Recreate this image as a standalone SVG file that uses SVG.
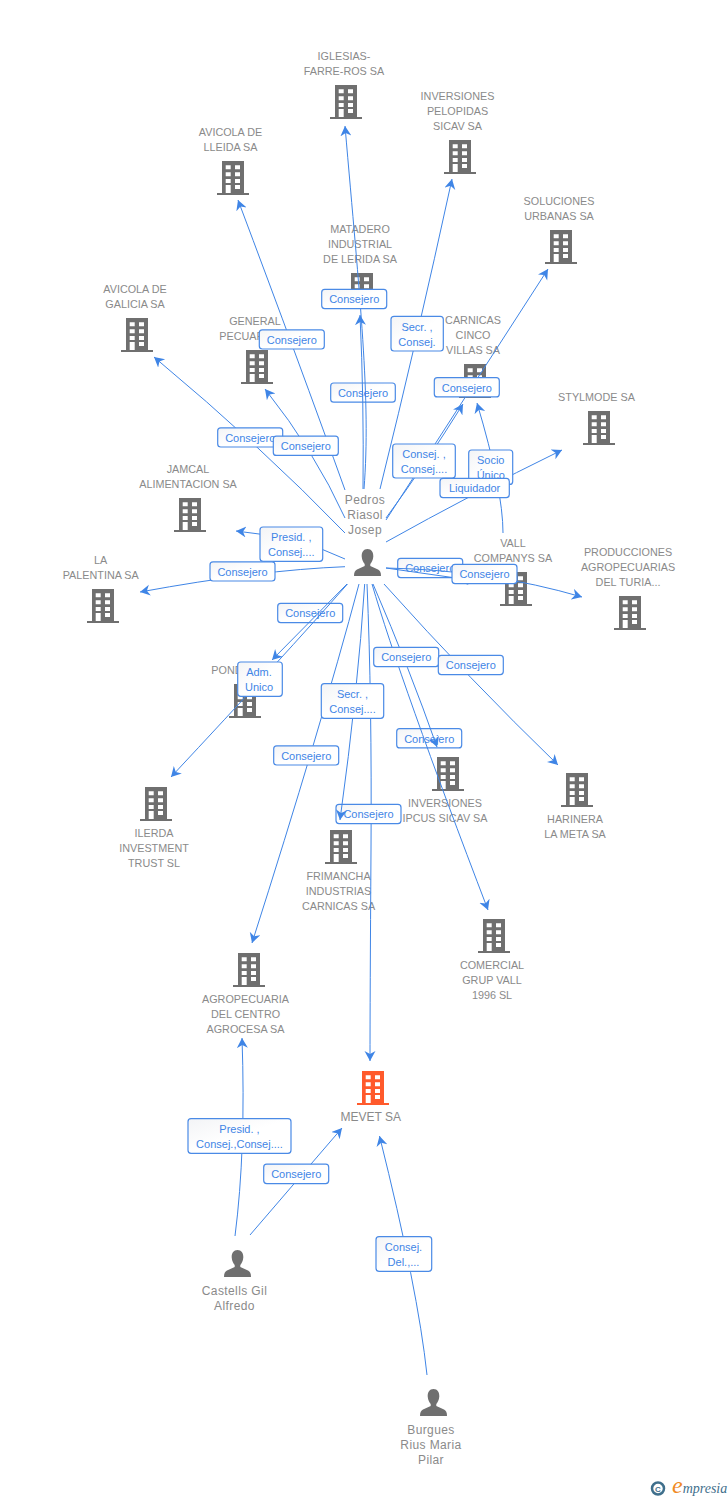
<svg xmlns="http://www.w3.org/2000/svg" xmlns:xlink="http://www.w3.org/1999/xlink" width="728" height="1500" viewBox="0 0 728 1500">
<style>
text{font-family:"Liberation Sans",Arial,sans-serif}
.n text{font-size:10.8px;fill:#8a8a8a;text-anchor:middle}
.n text.s{text-anchor:start}
.p text{font-size:12px;fill:#8a8a8a;text-anchor:middle;letter-spacing:.4px}
.b{fill:#6f6f6f}
.m{fill:#ff5a2c}
.c path{fill:none;stroke:#3f85e6;stroke-width:1;marker-end:url(#a)}
.l rect{fill:url(#g);stroke:#4a8ae6;stroke-width:1.2}
.l text{font-size:11px;fill:#3f85e6;text-anchor:middle}
</style>
<defs>
<linearGradient id="g" x1="0" y1="0" x2="1" y2="1"><stop offset="0" stop-color="#f3f4f6"/><stop offset=".5" stop-color="#fff"/><stop offset="1" stop-color="#fff"/></linearGradient>
<marker id="a" markerUnits="userSpaceOnUse" markerWidth="12" markerHeight="12" refX="10" refY="5.5" orient="auto"><path d="M10 5.5L0 0L3 5.5L0 11Z" fill="#3f85e6"/></marker>
<path id="bp" fill-rule="evenodd" d="M5 0H27V32H32V34H0V32H5ZM8.7 4.3V8.3H13.7V4.3ZM18 4.3V8.3H23V4.3ZM8.7 11.3V15.3H13.7V11.3ZM18 11.3V15.3H23V11.3ZM8.7 18V22H13.7V18ZM18 18V22H23V18ZM18 24V28H23V24ZM8.7 24V32H13.7V24Z"/>
<path id="pp" d="M13.5 0C17.5 0 19.5 3.2 19.3 7.5C19.1 11 17.5 13.5 16.3 15V17L24 20.5C26 21.5 27 23 27 27H0C0 23 1 21.5 3 20.5L10.7 17V15C9.5 13.5 7.9 11 7.7 7.5C7.5 3.2 9.5 0 13.5 0Z"/>
</defs>
<rect width="728" height="1500" fill="#fff"/>
<g id="node-iglesias" class="n"><use href="#bp" class="b" x="330" y="85"/><text x="344" y="60">IGLESIAS-</text><text x="344" y="75">FARRE-ROS SA</text></g>
<g id="node-avicola-lleida" class="n"><use href="#bp" class="b" x="217" y="161"/><text x="230.5" y="136">AVICOLA DE</text><text x="230.5" y="151">LLEIDA SA</text></g>
<g id="node-pelopidas" class="n"><use href="#bp" class="b" x="444" y="140"/><text x="457.5" y="100">INVERSIONES</text><text x="457.5" y="115">PELOPIDAS</text><text x="457.5" y="130">SICAV SA</text></g>
<g id="node-soluciones" class="n"><use href="#bp" class="b" x="545" y="230"/><text x="559" y="205">SOLUCIONES</text><text x="559" y="220">URBANAS SA</text></g>
<g id="node-matadero" class="n"><use href="#bp" class="b" x="346" y="273"/><text x="360" y="233">MATADERO</text><text x="360" y="248">INDUSTRIAL</text><text x="360" y="263">DE LERIDA SA</text></g>
<g id="node-avicola-galicia" class="n"><use href="#bp" class="b" x="121" y="318"/><text x="135" y="293">AVICOLA DE</text><text x="135" y="308">GALICIA SA</text></g>
<g id="node-general" class="n"><use href="#bp" class="b" x="241" y="350"/><text x="255" y="325">GENERAL</text><text class="s" x="219.3" y="340">PECUAR</text></g>
<g id="node-carnicas" class="n"><use href="#bp" class="b" x="459" y="364"/><text x="473" y="324">CARNICAS</text><text x="473" y="339">CINCO</text><text x="473" y="354">VILLAS SA</text></g>
<g id="node-stylmode" class="n"><use href="#bp" class="b" x="583" y="411"/><text x="596.5" y="401">STYLMODE SA</text></g>
<g id="node-jamcal" class="n"><use href="#bp" class="b" x="174" y="498"/><text x="188" y="473">JAMCAL</text><text x="188" y="488">ALIMENTACION SA</text></g>
<g id="node-palentina" class="n"><use href="#bp" class="b" x="87" y="589"/><text x="100.7" y="564">LA</text><text x="100.7" y="579">PALENTINA SA</text></g>
<g id="node-vall" class="n"><use href="#bp" class="b" x="500" y="572"/><text x="513" y="547">VALL</text><text x="513" y="562">COMPANYS SA</text></g>
<g id="node-producciones" class="n"><use href="#bp" class="b" x="614" y="596"/><text x="628" y="556">PRODUCCIONES</text><text x="628" y="571">AGROPECUARIAS</text><text x="628" y="586">DEL TURIA...</text></g>
<g id="node-pond" class="n"><use href="#bp" class="b" x="229" y="684"/><text class="s" x="211.3" y="674">POND</text></g>
<g id="node-ilerda" class="n"><use href="#bp" class="b" x="140" y="787"/><text x="154" y="837">ILERDA</text><text x="154" y="852">INVESTMENT</text><text x="154" y="867">TRUST SL</text></g>
<g id="node-ipcus" class="n"><use href="#bp" class="b" x="432" y="757"/><text x="445" y="807">INVERSIONES</text><text x="445" y="822">IPCUS SICAV SA</text></g>
<g id="node-harinera" class="n"><use href="#bp" class="b" x="561" y="773"/><text x="575" y="823">HARINERA</text><text x="575" y="838">LA META SA</text></g>
<g id="node-frimancha" class="n"><use href="#bp" class="b" x="325" y="830"/><text x="338.5" y="880">FRIMANCHA</text><text x="338.5" y="895">INDUSTRIAS</text><text x="338.5" y="910">CARNICAS SA</text></g>
<g id="node-comercial" class="n"><use href="#bp" class="b" x="478" y="919"/><text x="492" y="969">COMERCIAL</text><text x="492" y="984">GRUP VALL</text><text x="492" y="999">1996 SL</text></g>
<g id="node-agropecuaria" class="n"><use href="#bp" class="b" x="233" y="953"/><text x="245.5" y="1003">AGROPECUARIA</text><text x="245.5" y="1018">DEL CENTRO</text><text x="245.5" y="1033">AGROCESA SA</text></g>
<g id="node-mevet" class="n"><use href="#bp" class="m" x="357" y="1071"/><text x="370.7" y="1121" style="font-size:12px">MEVET SA</text></g>
<g id="node-pedros" class="p"><use href="#pp" class="b" x="354" y="549"/><text x="365" y="504">Pedros</text><text x="365" y="519">Riasol</text><text x="365" y="534">Josep</text></g>
<g id="node-castells" class="p"><use href="#pp" class="b" x="224" y="1250"/><text x="234.5" y="1295">Castells Gil</text><text x="234.5" y="1310">Alfredo</text></g>
<g id="node-burgues" class="p"><use href="#pp" class="b" x="420" y="1389"/><text x="431" y="1434">Burgues</text><text x="431" y="1449">Rius Maria</text><text x="431" y="1464">Pilar</text></g>

<g id="connectors-base" class="c">
<path d="M367 584Q372 700 371 850T370 1061"/>
</g>
<g id="labels-under" class="l">
<g><rect x="330.7" y="383" width="64.6" height="19.2" rx="3"/><text x="363" y="397">Consejero</text></g>
<g><rect x="397.7" y="558.4" width="65" height="19.2" rx="3"/><text x="430.2" y="572.4">Consejero</text></g>
<g><rect x="277.7" y="603.4" width="65" height="19.2" rx="3"/><text x="310.2" y="617.4">Consejero</text></g>
<g><rect x="396.7" y="728.7" width="65" height="19.2" rx="3"/><text x="429.2" y="742.7">Consejero</text></g>
<g><rect x="336" y="804.4" width="65" height="19.2" rx="3"/><text x="368.5" y="818.4">Consejero</text></g>
</g>
<g id="connectors" class="c">
<path d="M363 489Q364 400 360 315"/>
<path d="M364 489C371 400 360 300 345 126"/>
<path d="M345 490Q300 365 238 200"/>
<path d="M380 489Q417 340 452 179"/>
<path d="M386 520L548 269"/>
<path d="M386 518Q425 465 463 404"/>
<path d="M503 533Q503 490 477 403"/>
<path d="M386 542Q470 495 562 450"/>
<path d="M386 568L477 581"/>
<path d="M386 568Q490 570 582 597"/>
<path d="M345 533Q262 447 154 357"/>
<path d="M345 518Q315 452 265 389"/>
<path d="M345 559Q300 537 236 531"/>
<path d="M345 566.7Q260 570 140 592"/>
<path d="M347 584L272 660"/>
<path d="M347.5 584Q285 655 171 777"/>
<path d="M359 584Q320 730 252 943"/>
<path d="M364.7 584Q358 690 340 820"/>
<path d="M372 584Q400 680 488 910"/>
<path d="M373 584Q410 670 437 747"/>
<path d="M384 584Q470 680 558 765"/>
<path d="M235 1236Q246 1150 242 1038"/>
<path d="M250 1235L342 1128"/>
<path d="M427 1375Q418 1290 379.5 1136"/>
</g>
<g id="labels" class="l">
<g><rect x="321.7" y="289.4" width="65" height="19.2" rx="3"/><text x="354.2" y="303.4">Consejero</text></g>
<g><rect x="259.3" y="329.8" width="65" height="19.2" rx="3"/><text x="291.8" y="343.8">Consejero</text></g>
<g><rect x="391" y="316.3" width="52.3" height="34.7" rx="3"/><text x="417" y="330.5">Secr. ,</text><text x="417" y="345.5">Consej.</text></g>
<g><rect x="434.3" y="377.7" width="65" height="19.2" rx="3"/><text x="466.8" y="391.7">Consejero</text></g>
<g><rect x="392.7" y="444" width="62.6" height="34" rx="3"/><text x="424" y="458">Consej. ,</text><text x="424" y="473">Consej....</text></g>
<g><rect x="468.7" y="450" width="44" height="34.4" rx="3"/><text x="490.7" y="464">Socio</text><text x="490.7" y="479">Único</text></g>
<g><rect x="440" y="478.4" width="69.3" height="19.2" rx="3"/><text x="474.6" y="492.4">Liquidador</text></g>
<g><rect x="452" y="564.4" width="65" height="19.2" rx="3"/><text x="484.5" y="578.4">Consejero</text></g>
<g><rect x="217.7" y="427.8" width="65" height="19.2" rx="3"/><text x="250.2" y="441.8">Consejero</text></g>
<g><rect x="273.3" y="436.2" width="65" height="19.2" rx="3"/><text x="305.8" y="450.2">Consejero</text></g>
<g><rect x="260" y="527" width="62.7" height="34.3" rx="3"/><text x="291.3" y="541">Presid. ,</text><text x="291.3" y="556">Consej....</text></g>
<g><rect x="210" y="561.8" width="65" height="19.2" rx="3"/><text x="242.5" y="575.8">Consejero</text></g>
<g><rect x="237.7" y="662" width="44.6" height="34.3" rx="3"/><text x="259" y="676">Adm.</text><text x="259" y="691">Unico</text></g>
<g><rect x="321.3" y="683.7" width="62.4" height="34.6" rx="3"/><text x="352.5" y="697.7">Secr. ,</text><text x="352.5" y="712.7">Consej....</text></g>
<g><rect x="373.7" y="647.4" width="65" height="19.2" rx="3"/><text x="406.2" y="661.4">Consejero</text></g>
<g><rect x="438.3" y="655.4" width="65" height="19.2" rx="3"/><text x="470.8" y="669.4">Consejero</text></g>
<g><rect x="273.7" y="745.8" width="65" height="19.2" rx="3"/><text x="306.2" y="759.8">Consejero</text></g>
<g><rect x="188" y="1118.7" width="103" height="34.6" rx="3"/><text x="239.5" y="1132.7">Presid. ,</text><text x="239.5" y="1147.7">Consej.,Consej....</text></g>
<g><rect x="263.7" y="1164.2" width="65" height="19.4" rx="3"/><text x="296.2" y="1178.2">Consejero</text></g>
<g><rect x="376" y="1236.7" width="55.7" height="34.6" rx="3"/><text x="403.5" y="1250.7">Consej.</text><text x="403.5" y="1265.7">Del.,...</text></g>
</g>
<g id="logo">
<circle cx="658" cy="1488.5" r="6" fill="#fff" stroke="#3f6f8c" stroke-width="2.5"/>
<text x="658" y="1491.5" text-anchor="middle" style="font-size:8px;font-weight:bold;fill:#3f6f8c">C</text>
<text x="672" y="1493" style="font-family:'Liberation Serif',serif;font-style:italic;font-size:14px;fill:#3f6f8c"><tspan style="font-size:24px;fill:#f08a24">e</tspan><tspan>mpresia</tspan></text>
</g>
</svg>
